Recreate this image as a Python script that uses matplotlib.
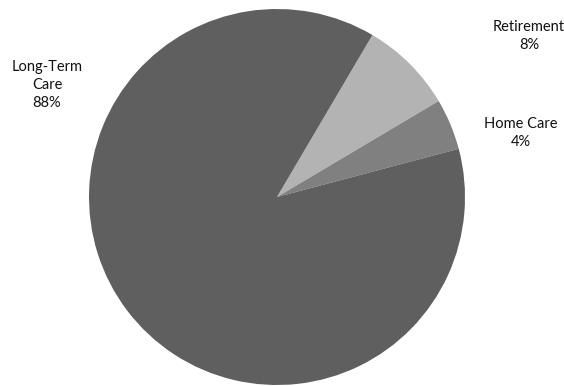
import matplotlib
matplotlib.use("Agg")
import matplotlib.pyplot as plt

categories = ["Retirement", "Home Care", "Long-Term\nCare"]
shares = [8.0, 4.4, 87.6]
colors = ["#b3b3b3", "#808080", "#5f5f5f"]

plt.rcParams['font.family'] = ['Lato', 'DejaVu Sans']

fig = plt.figure(figsize=(5.64, 3.86), dpi=100)
ax = fig.add_axes([0, 0, 1, 1])

ax.pie(shares, colors=colors, startangle=59.5, counterclock=False,
       center=(277, 189), radius=188, frame=True,
       wedgeprops=dict(linewidth=0))
ax.set_xlim(0, 564)
ax.set_ylim(0, 386)
ax.set_aspect('equal')
ax.axis('off')

# label spots in pixels (x, y from top)
label_pos = [(529, 36), (521, 133), (47, 85)]
for name, val, (x, y) in zip(categories, shares, label_pos):
    ax.text(x, 386 - y, f"{name}\n{round(val)}%", ha='center', va='center',
            fontsize=10.5, color='#111111', linespacing=1.35)

fig.savefig("out.png", dpi=100)
